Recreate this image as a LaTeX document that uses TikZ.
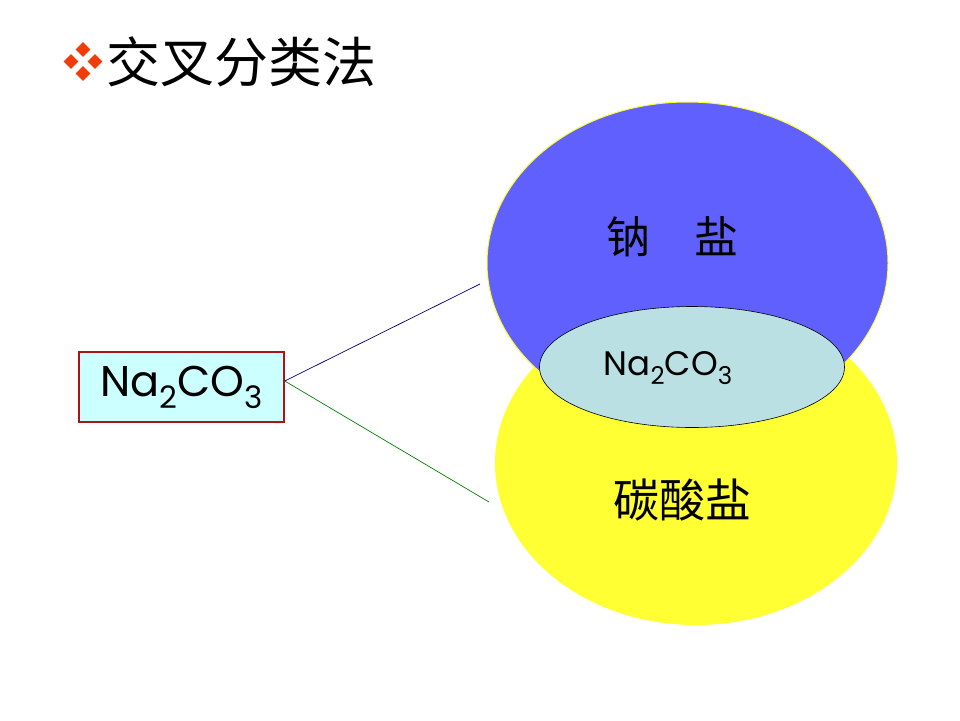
\documentclass[tikz,border=0pt]{standalone}
\usepackage{fontspec}
\setmainfont{Poppins}
\newfontfamily\cjk{Noto Sans CJK SC}
\usetikzlibrary{shapes.geometric}
\definecolor{natblue}{RGB}{96,96,255}
\definecolor{caryellow}{RGB}{255,255,51}
\definecolor{mixcol}{RGB}{187,224,227}
\definecolor{boxfill}{RGB}{204,255,255}
\definecolor{boxline}{RGB}{170,20,20}
\definecolor{bullet}{RGB}{240,60,10}
\newcommand\mysubidx[1]{\raisebox{-0.28em}{\scalebox{0.72}{#1}}}
\begin{document}
\begin{tikzpicture}[x=1pt,y=-1pt,
  setell/.style={ellipse, inner sep=0pt},
  lbl/.style={inner sep=0pt, text=black},
  dia/.style={diamond, fill=bullet, inner sep=0pt, minimum width=15pt, minimum height=15pt}]
\useasboundingbox[fill=white] (0,0) rectangle (960,720);
% title
\node[dia] (d1) at (83,49.5) {};
\node[dia] (d2) at (71,61.5) {};
\node[dia] (d3) at (95,61.5) {};
\node[dia] (d4) at (83,73.5) {};
\node[lbl, anchor=west] (title) at (106,62) {\fontsize{54}{54}\selectfont\cjk 交叉分类法};
% sets
\node[setell, fill=caryellow, minimum width=402pt, minimum height=324pt] (carb) at (696,463) {};
\node[setell, fill=natblue, draw=caryellow, line width=1pt, minimum width=401pt, minimum height=322pt] (sod) at (687.5,263) {};
\node[setell, fill=mixcol, draw=black, line width=0.6pt, minimum width=305pt, minimum height=121pt] (mix) at (692,367) {};
\node[lbl] (sodlbl) at (672,237) {\fontsize{44}{44}\selectfont\cjk 钠\quad 盐};
\node[lbl] (carblbl) at (682,500) {\fontsize{46}{46}\selectfont\cjk 碳酸盐};
\node[lbl] (mixlbl) at (668,368) {\fontsize{34}{34}\selectfont Na\mysubidx{2}CO\mysubidx{3}};
% box
\node[draw=boxline, fill=boxfill, line width=1.5pt, minimum width=205pt, minimum height=70pt, inner sep=0pt] (box) at (181.5,387) {\fontsize{43}{43}\selectfont Na\mysubidx{2}CO\mysubidx{3}\hspace{14pt}};
\coordinate (src) at ([yshift=6pt]box.east);
\coordinate (tsod) at (480,284);
\coordinate (tcarb) at (489,502);
\draw[color={rgb,1:red,0;green,0;blue,0.5}, line width=0.7pt] (src) -- (tsod);
\draw[color={rgb,1:red,0;green,0.5;blue,0}, line width=0.7pt] (src) -- (tcarb);
\end{tikzpicture}
\end{document}
